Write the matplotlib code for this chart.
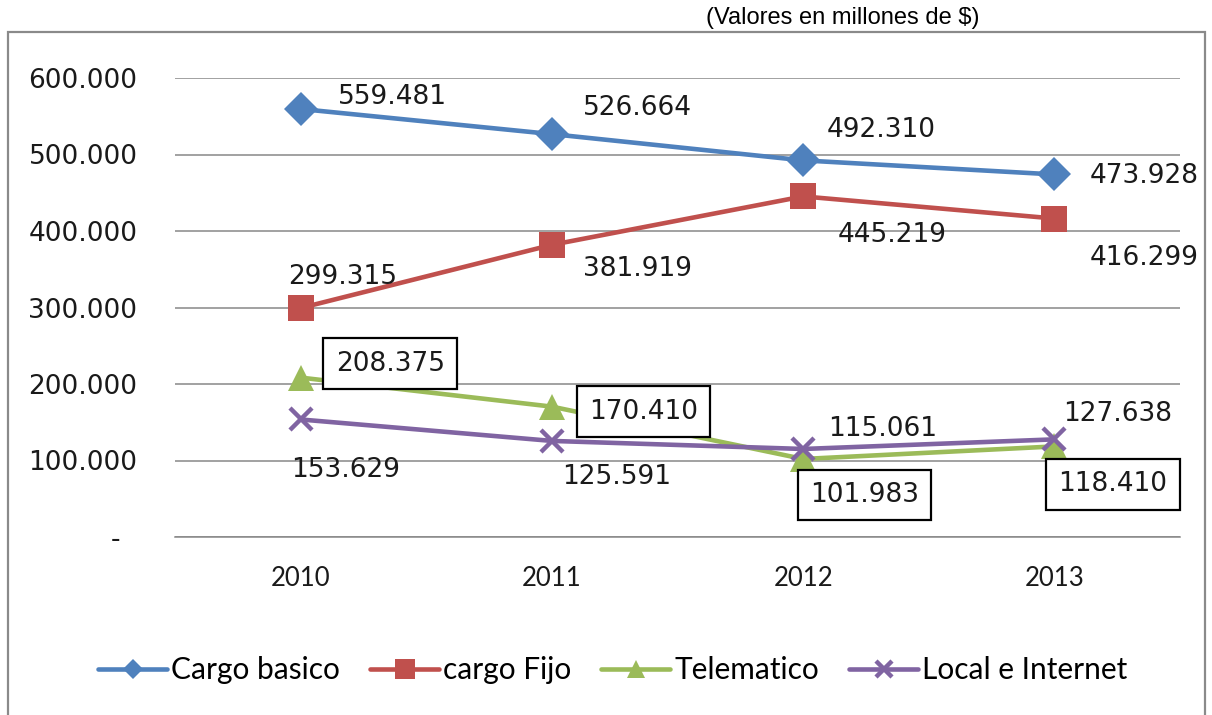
import matplotlib
matplotlib.use("Agg")
import matplotlib.pyplot as plt
from matplotlib.patches import Rectangle

years = ["2010", "2011", "2012", "2013"]
cargo_basico = [559481, 526664, 492310, 473928]
cargo_fijo = [299315, 381919, 445219, 416299]
telematico = [208375, 170410, 101983, 118410]
local_internet = [153629, 125591, 115061, 127638]
series_names = ["Cargo basico", "cargo Fijo", "Telematico", "Local e Internet"]
y_ticks = [0, 100000, 200000, 300000, 400000, 500000, 600000]
title = "(Valores en millones de $)"

def fmt(v):
    return "-  " if v == 0 else f"{v:,.0f}".replace(",", ".")

fig = plt.figure(figsize=(12.12, 7.15), dpi=100)
fig.patch.set_facecolor("white")
ax = fig.add_axes([175 / 1212, 178 / 715, 1005 / 1212, 459 / 715])

# outer chart border
fig.patches.append(Rectangle((8 / 1212, -0.02), (1205 - 8) / 1212, (715 - 32) / 715 + 0.02,
                             transform=fig.transFigure, fill=False, edgecolor="#8a8a8a",
                             linewidth=1.6))
fig.text(706 / 1212, 1 - 18 / 715, title, family="Liberation Sans", fontsize=17,
         ha="left", va="center")

x = [0.5, 1.5, 2.5, 3.5]
styles = [
    dict(color="#4F81BD", marker="D", ms=17, mew=0),
    dict(color="#C0504D", marker="s", ms=18.5, mew=0),
    dict(color="#9BBB59", marker="^", ms=19, mew=0),
    dict(color="#8064A2", marker="x", ms=16.5, mew=3.2),
]
legend_ms = [10, 14.5, 13, 11.5]
data = [cargo_basico, cargo_fijo, telematico, local_internet]
for vals, name, st in zip(data, series_names, styles):
    ax.plot(x, vals, label=name, lw=3.3, clip_on=False, solid_capstyle="round", **st)

# label offsets (pixels from point to label left edge / vertical centre)
offsets = [
    [(37, 14), (31, 28), (24, 32), (35, 0)],
    [(-13, 33), (31, -22), (35, -37), (35, -37)],
    [(35, 16), (37, -3), (7, -34), (4, -36)],
    [(-10, -49), (10, -34), (25, 22), (9, 27)],
]
boxed = [False, False, True, False]
for vals, offs, bx in zip(data, offsets, boxed):
    for xi, v, (dx, dy) in zip(x, vals, offs):
        kw = {}
        if bx:
            kw["bbox"] = dict(boxstyle="square,pad=0.46", fc="white", ec="black", lw=1.6)
        ax.annotate(fmt(v), (xi, v), xytext=(dx, dy - 2), textcoords="offset pixels",
                    ha="left", va="center", fontsize=19, family="DejaVu Sans",
                    color="#1a1a1a", zorder=5, **kw)

ax.set_xlim(0, 4)
ax.set_ylim(0, 600000)
ax.set_yticks(y_ticks)
ax.set_yticklabels([fmt(v) for v in y_ticks], family="DejaVu Sans", fontsize=19)
ax.set_xticks(x)
ax.set_xticklabels(years, family="Lato", fontsize=18.5)
ax.tick_params(axis="y", length=0, pad=27, colors="#1a1a1a")
ax.tick_params(axis="x", length=0, pad=21, colors="#1a1a1a")
ax.yaxis.grid(True, color="#878787", lw=1.1)
ax.set_axisbelow(True)
for s in ["top", "left", "right"]:
    ax.spines[s].set_visible(False)
ax.spines["bottom"].set_color("#878787")
ax.spines["bottom"].set_linewidth(1.1)

leg = fig.legend(loc="center", bbox_to_anchor=(613 / 1212, 1 - 670 / 715), ncol=4,
                 frameon=False, prop=dict(family="Lato", size=21.5), handlelength=2.3,
                 handletextpad=0.15, columnspacing=1.0)
for h, ms in zip(leg.legend_handles, legend_ms):
    h.set_markersize(ms)

fig.savefig("out.png", dpi=100, facecolor="white")
